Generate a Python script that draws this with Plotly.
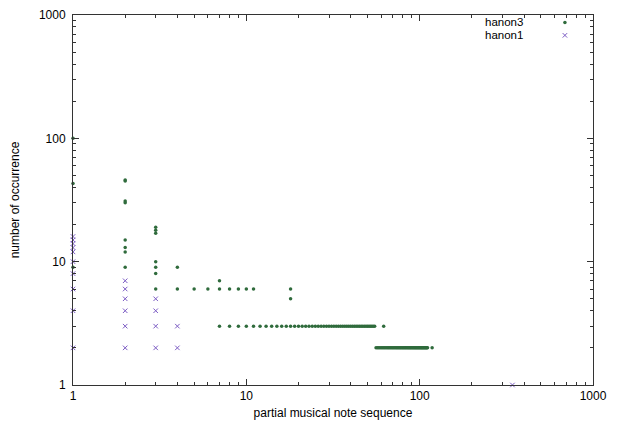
import plotly.graph_objects as go

# ---- data ----
hanon3_x = [1, 1, 1,
            2, 2, 2, 2, 2, 2, 2, 2,
            3, 3, 3, 3, 3, 3, 3,
            4, 4,
            5, 6, 7, 7, 8, 9, 10, 11, 18, 18,
            7, 8, 9, 10, 11, 12, 13, 14, 15, 16, 17, 18, 19, 20, 21, 22, 23, 24, 25, 26,
            27, 28, 29, 30, 31, 32, 33, 34, 35, 36, 37, 38, 39, 40, 41, 42, 43, 44, 45, 46,
            47, 48, 49, 50, 51, 52, 53, 54, 55, 62,
            56, 57, 58, 59, 60, 61, 62, 63, 64, 65, 66, 67, 68, 69, 70, 71, 72, 73, 74, 75,
            76, 77, 78, 79, 80, 81, 82, 83, 84, 85, 86, 87, 88, 89, 90, 91, 92, 93, 94, 95,
            96, 97, 98, 99, 100, 101, 102, 103, 104, 105, 106, 107, 108, 109, 110, 111, 118]
hanon3_y = [100, 43, 9,
            46, 45, 31, 30, 15, 13, 12, 9,
            19, 18, 17, 10, 9, 8, 6,
            9, 6,
            6, 6, 7, 6, 6, 6, 6, 6, 6, 5,
            3, 3, 3, 3, 3, 3, 3, 3, 3, 3, 3, 3, 3, 3, 3, 3, 3, 3, 3, 3,
            3, 3, 3, 3, 3, 3, 3, 3, 3, 3, 3, 3, 3, 3, 3, 3, 3, 3, 3, 3,
            3, 3, 3, 3, 3, 3, 3, 3, 3, 3,
            2, 2, 2, 2, 2, 2, 2, 2, 2, 2, 2, 2, 2, 2, 2, 2, 2, 2, 2, 2,
            2, 2, 2, 2, 2, 2, 2, 2, 2, 2, 2, 2, 2, 2, 2, 2, 2, 2, 2, 2,
            2, 2, 2, 2, 2, 2, 2, 2, 2, 2, 2, 2, 2, 2, 2, 2, 2]

hanon1_x = [1, 1, 1, 1, 1, 1, 1, 1, 1, 1,
            2, 2, 2, 2, 2, 2,
            3, 3, 3, 3,
            4, 4,
            343]
hanon1_y = [16, 15, 14, 13, 12, 10, 8, 6, 4, 2,
            7, 6, 5, 4, 3, 2,
            5, 4, 3, 2,
            3, 2,
            1]

series_names = ["hanon3", "hanon1"]
major_ticks = [1, 10, 100, 1000]
major_labels = ["1", "10", "100", "1000"]
minor_ticks = [m * 10 ** k for k in range(3) for m in range(2, 10)]

green = "#2f6b3c"
purple = "#7c5cc4"
font_family = "Liberation Sans, Arial, Helvetica, sans-serif"

fig = go.Figure()
fig.add_trace(go.Scatter(x=hanon3_x, y=hanon3_y, mode="markers", name=series_names[0],
                         marker=dict(symbol="circle", size=3.5, color=green, line=dict(width=0)),
                         cliponaxis=False, showlegend=False))
fig.add_trace(go.Scatter(x=hanon1_x, y=hanon1_y, mode="markers", name=series_names[1],
                         marker=dict(symbol="x-thin", size=4.5, color=purple,
                                     line=dict(width=1, color=purple)),
                         cliponaxis=False, showlegend=False))

# legend keys (gnuplot style: text left, symbol right) on an overlay axis
legend_y = [0.98, 0.945]
fig.add_trace(go.Scatter(x=[0.946], y=[legend_y[0]], mode="markers", xaxis="x2", yaxis="y2",
                         marker=dict(symbol="circle", size=3.5, color=green), showlegend=False,
                         hoverinfo="skip"))
fig.add_trace(go.Scatter(x=[0.946], y=[legend_y[1]], mode="markers", xaxis="x2", yaxis="y2",
                         marker=dict(symbol="x-thin", size=4.5, color=purple,
                                     line=dict(width=1, color=purple)),
                         showlegend=False, hoverinfo="skip"))
for name, yy in zip(series_names, legend_y):
    fig.add_annotation(x=0.868, y=yy, xref="paper", yref="paper", text=name,
                       showarrow=False, xanchor="right", yanchor="middle",
                       font=dict(size=11.5, color="black", family=font_family),
                       borderpad=0)

axis_common = dict(type="log", range=[0, 3], showgrid=False, zeroline=False,
                   showline=True, linecolor="#333333", linewidth=1, mirror="ticks",
                   ticks="inside", ticklen=6, tickcolor="#333333", tickwidth=1,
                   tickvals=major_ticks, ticktext=major_labels, automargin=False,
                   ticklabeloverflow="allow",
                   tickfont=dict(size=12, color="black", family=font_family),
                   minor=dict(ticks="inside", ticklen=3, tickcolor="#333333",
                              tickvals=minor_ticks, showgrid=False))

fig.update_layout(
    width=618, height=426,
    margin=dict(l=65, r=33, t=7, b=49),
    paper_bgcolor="white", plot_bgcolor="white",
    font=dict(family=font_family, size=12, color="black"),
    xaxis=dict(**axis_common,
               title=dict(text="partial musical note sequence", standoff=6,
                          font=dict(size=12, color="black"))),
    yaxis=dict(**axis_common, ticklabelstandoff=4,
               title=dict(text="number of occurrence", standoff=17,
                          font=dict(size=12, color="black"))),
    xaxis2=dict(overlaying="x", range=[0, 1], visible=False, fixedrange=True),
    yaxis2=dict(overlaying="y", range=[0, 1], visible=False, fixedrange=True),
    showlegend=False,
)

fig.write_html("out.html")
